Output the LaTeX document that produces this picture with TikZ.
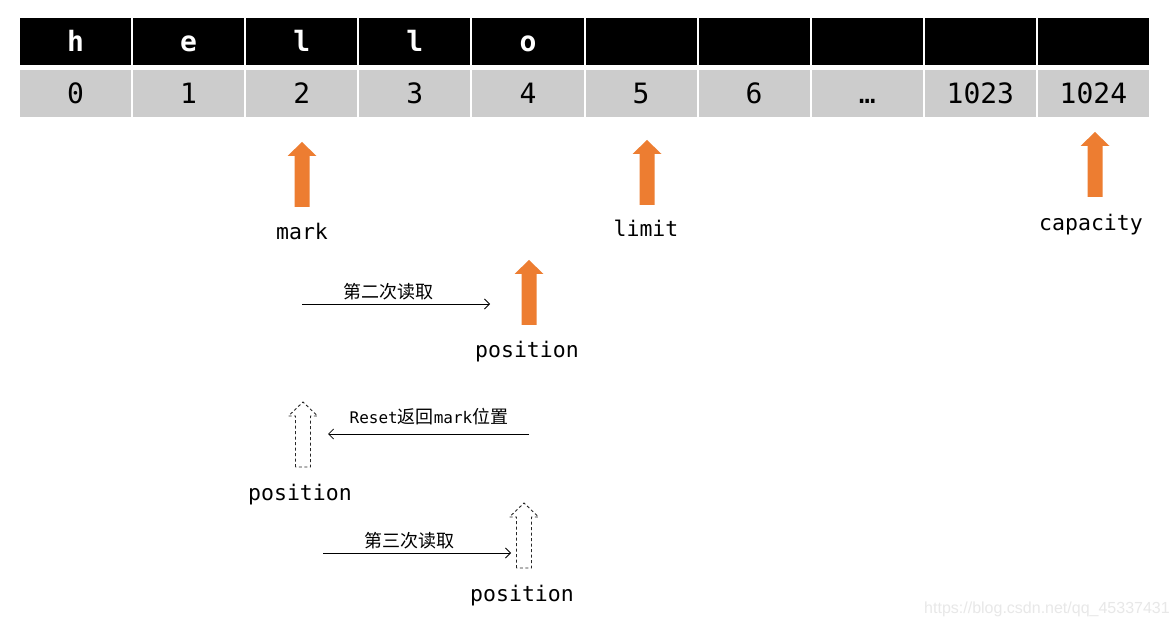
\documentclass[tikz,border=0pt]{standalone}
\usepackage{fontspec}
\setmainfont{DejaVu Sans}
\newfontfamily\monof{DejaVu Sans Mono}
\newfontfamily\cjkf{Noto Sans CJK SC}
\newfontfamily\wmf{Liberation Sans}
\usetikzlibrary{arrows.meta}
\definecolor{orangeA}{HTML}{ED7D31}
\definecolor{cellgray}{HTML}{CCCCCC}
\begin{document}
\begin{tikzpicture}[x=1pt,y=-1pt]
\tikzset{
  cell/.style={draw=white, line width=2pt, minimum width=113.1pt, minimum height=49pt, inner sep=0pt, text height=20.4pt, text depth=0pt},
  topcell/.style={cell, fill=black, text=white, font=\monof\bfseries\fontsize{28}{28}\selectfont},
  idxcell/.style={cell, fill=cellgray, text=black, font=\monof\fontsize{28}{28}\selectfont},
  lbl/.style={font=\monof\fontsize{21.5}{22}\selectfont, inner sep=0pt, text height=16pt, text depth=5.5pt},
  note/.style={font=\fontsize{18}{20}\selectfont, inner sep=0pt},
  conn/.style={line width=0.8pt, -{Straight Barb[length=5pt,width=10pt]}},
  solidarrow/.style={fill=orangeA, draw=none},
  ghostarrow/.style={draw=black!85, line width=0.9pt, dash pattern=on 3pt off 2.5pt, fill=none},
  blockarrow/.pic={\path[pic actions] (-7.5,0) -- (-7.5,-51) -- (-14.5,-51) -- (0,-65) -- (14.5,-51) -- (7.5,-51) -- (7.5,0) -- cycle;}
}
\useasboundingbox (0,0) rectangle (1176,628);
\fill[white] (0,0) rectangle (1176,628);

% table
\foreach \c [count=\i from 0] in {h,e,l,l,o,{},{},{},{},{}}{
  \node[topcell] (t\i) at (75.55+113.1*\i,41.5) {\c};
}
\foreach \c [count=\i from 0] in {0,1,2,3,4,5,6,…,1023,1024}{
  \node[idxcell] (b\i) at (75.55+113.1*\i,93.5) {\c};
}

% solid arrows
\pic[solidarrow] at (302,207) {blockarrow};
\node[lbl] (mark) at (302,234.5) {mark};
\pic[solidarrow] at (647,205) {blockarrow};
\node[lbl] (limit) at (646,231) {limit};
\pic[solidarrow] at (1095,197) {blockarrow};
\node[lbl] (capacity) at (1091,225) {capacity};
\pic[solidarrow] at (529,325) {blockarrow};
\node[lbl] (pos1) at (527,352) {position};

% second read
\coordinate (r2s) at (302,304);
\coordinate (r2e) at (490,304);
\draw[conn] (r2s) -- (r2e);
\node[note] (r2l) at (388,292) {\cjkf 第二次读取};

% reset
\pic[ghostarrow] at (303,467) {blockarrow};
\node[lbl] (pos2) at (300,495) {position};
\coordinate (rs) at (529,434);
\coordinate (re) at (328,434);
\draw[conn] (rs) -- (re);
\node[note] (rl) at (429,417) {{\monof\fontsize{16}{18}\selectfont Reset}{\cjkf 返回}{\monof\fontsize{16}{18}\selectfont mark}{\cjkf 位置}};

% third read
\pic[ghostarrow] at (524,568) {blockarrow};
\node[lbl] (pos3) at (522,596.5) {position};
\coordinate (r3s) at (323,553);
\coordinate (r3e) at (511,553);
\draw[conn] (r3s) -- (r3e);
\node[note] (r3l) at (409,541) {\cjkf 第三次读取};

% watermark
\node[font=\wmf\fontsize{16}{16}\selectfont, text=black!9, inner sep=0pt] (wm) at (1047,609) {https://blog.csdn.net/qq\_45337431};
\end{tikzpicture}
\end{document}
